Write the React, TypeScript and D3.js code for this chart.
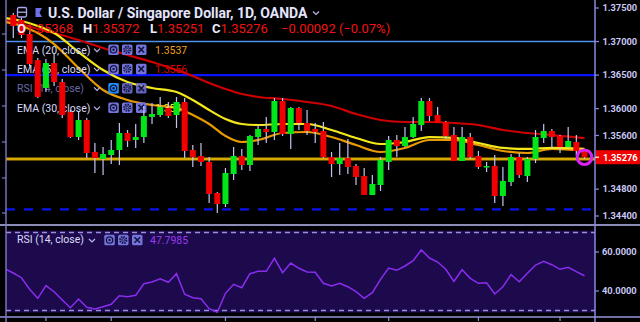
import React from 'react';
import * as d3 from 'd3';

const W = 640;
const H = 322;

// ---- OHLC data (daily, USD/SGD) ----
const opens = [1.37396,1.37321,1.37112,1.36725,1.36308,1.36680,1.36397,1.35950,1.35577,1.35831,1.35354,1.35250,1.35309,1.35384,1.35637,1.35533,1.35577,1.35876,1.35905,1.36010,1.35905,1.36099,1.35384,1.35294,1.35205,1.34743,1.34579,1.35026,1.35294,1.35160,1.35577,1.35697,1.35652,1.36114,1.35622,1.36010,1.35786,1.35697,1.35667,1.35279,1.35175,1.35264,1.35145,1.34996,1.34713,1.34862,1.35205,1.35533,1.35443,1.35577,1.35756,1.36114,1.35905,1.35801,1.35607,1.35220,1.35577,1.35294,1.35130,1.35145,1.34698,1.34907,1.35279,1.34996,1.35250,1.35563,1.35667,1.35592,1.35428,1.35503,1.35368];
const highs = [1.37425,1.37351,1.37172,1.36755,1.36740,1.36814,1.36442,1.35980,1.35950,1.35861,1.35488,1.35428,1.35533,1.35786,1.35682,1.35771,1.36040,1.36084,1.36174,1.36099,1.36174,1.36159,1.35458,1.35488,1.35279,1.34758,1.35115,1.35428,1.35399,1.35607,1.35756,1.35876,1.36159,1.36159,1.36025,1.36025,1.35980,1.35786,1.35801,1.35354,1.35488,1.35548,1.35175,1.35115,1.35011,1.35279,1.35592,1.35607,1.35727,1.35876,1.36159,1.36159,1.36025,1.35816,1.35727,1.35727,1.35637,1.35369,1.35205,1.35309,1.35130,1.35324,1.35339,1.35279,1.35682,1.35771,1.35697,1.35607,1.35727,1.35607,1.35372];
const lows = [1.37053,1.37053,1.36636,1.36159,1.36248,1.36338,1.35861,1.35563,1.35533,1.35264,1.35041,1.35011,1.35175,1.35160,1.35428,1.35414,1.35488,1.35771,1.35876,1.35861,1.35712,1.35264,1.35130,1.35145,1.34594,1.34445,1.34534,1.34937,1.35086,1.35071,1.35458,1.35488,1.35533,1.35592,1.35399,1.35682,1.35607,1.35488,1.35264,1.34981,1.35011,1.35026,1.34862,1.34713,1.34713,1.34773,1.35086,1.35279,1.35428,1.35563,1.35667,1.35816,1.35786,1.35548,1.35220,1.35220,1.35250,1.35100,1.35056,1.34594,1.34549,1.34847,1.34966,1.34907,1.35190,1.35488,1.35414,1.35339,1.35414,1.35294,1.35251];
const closes = [1.37232,1.37098,1.36665,1.36174,1.36680,1.36397,1.35905,1.35577,1.35831,1.35339,1.35264,1.35324,1.35384,1.35637,1.35518,1.35577,1.35890,1.35920,1.36025,1.35890,1.36099,1.35369,1.35279,1.35205,1.34728,1.34579,1.35041,1.35294,1.35160,1.35592,1.35697,1.35652,1.36114,1.35622,1.36010,1.35786,1.35667,1.35652,1.35279,1.35175,1.35264,1.35130,1.34981,1.34713,1.34877,1.35235,1.35533,1.35443,1.35577,1.35771,1.36114,1.35890,1.35786,1.35592,1.35220,1.35577,1.35279,1.35130,1.35145,1.34698,1.34922,1.35279,1.35011,1.35250,1.35577,1.35667,1.35577,1.35428,1.35518,1.35369,1.35276];

// ---- EMA readings (bar index -> value) ----
const emaIdx = [-1,1,3,5,8,11,14,17,20,22,24,26,28,30,33,36,39,42,45,48,51,54,57,60,63,66,70];
const ema55 = [1.37321,1.37262,1.37187,1.37127,1.37023,1.36904,1.36800,1.36695,1.36576,1.36487,1.36382,1.36293,1.36218,1.36174,1.36144,1.36099,1.36040,1.35920,1.35831,1.35801,1.35801,1.35786,1.35756,1.35682,1.35637,1.35607,1.3556];
const ema30 = [1.37351,1.37306,1.37232,1.37127,1.36844,1.36576,1.36397,1.36308,1.36248,1.36129,1.35980,1.35846,1.35771,1.35756,1.35771,1.35771,1.35682,1.35563,1.35473,1.35503,1.35577,1.35563,1.35488,1.35414,1.35399,1.35414,1.3540];
const ema20 = [1.37291,1.37232,1.37127,1.36963,1.36605,1.36278,1.36129,1.36054,1.36010,1.35905,1.35771,1.35592,1.35503,1.35533,1.35637,1.35652,1.35577,1.35458,1.35354,1.35414,1.35533,1.35533,1.35458,1.35369,1.35339,1.35399,1.3537];

// ---- RSI(14) readings, starting at bar index -1 ----
const rsiStart = -1;
const rsiValues = [51.28,49.23,46.82,40.87,36.26,42.72,39.64,35.38,31.44,35.90,31.64,30.77,31.95,33.18,37.59,37.08,37.79,43.74,44.62,46.31,44.46,48.87,38.31,36.56,36.05,30.92,29.08,38.82,43.44,41.69,48.87,50.10,50.10,56.77,49.38,54.36,51.64,49.74,49.59,43.95,42.56,43.95,42.21,39.64,36.26,39.13,46.00,51.79,50.62,52.82,55.54,61.03,56.92,54.87,51.13,44.97,50.92,46.51,43.95,44.26,38.46,42.21,48.36,44.77,49.08,53.33,55.23,53.49,51.13,52.15,49.90,47.7985];

// ---- horizontal levels and axis ticks ----
const levelLightBlue = 1.37;
const levelBlue = 1.365;
const levelGold = 1.3525;
const levelDashed = 1.345;
const priceTicks = [1.375, 1.37, 1.365, 1.36, 1.356, 1.348, 1.344];
const rsiTicks = [60, 40];
const rsiBands = [70, 30];
const leftTicks = [1.37113, 1.36576, 1.3604, 1.35503, 1.34967, 1.34445];
const timeTickIdx = [4, 12, 26, 37, 46, 57, 67];

const title = 'U.S. Dollar / Singapore Dollar, 1D, OANDA';
const changeText = '\u22120.00092 (\u22120.07%)';
const legendRows = [
  { label: 'EMA (20, close)', value: '1.3537', color: '#f0a020', dim: false },
  { label: 'EMA (55, close)', value: '1.3556', color: '#e00000', dim: false },
  { label: 'RSI (14, close)', value: '', color: '', dim: true },
  { label: 'EMA (30, close)', value: '1.3540', color: '#ffe81a', dim: false },
];

const FONT = 'Roboto, "Noto Sans", sans-serif';

const x = d3.scaleLinear().domain([0, 70]).range([13.3, 584.5]);
const y = d3.scaleLinear().domain([1.344, 1.375]).range([216, 8]);
const yR = d3.scaleLinear().domain([30, 70]).range([310.5, 232.5]);

const PL = 6, PR = 595;

function emaPath(vals: number[]) {
  const pts = emaIdx.map((i, k) => [x(i), y(vals[k])] as [number, number]);
  return d3.line().curve(d3.curveMonotoneX)(pts) || '';
}

function Chevron({ cx, cy }: { cx: number; cy: number }) {
  return <path d={`M${cx - 3},${cy - 1.5} L${cx},${cy + 1.5} L${cx + 3},${cy - 1.5}`} fill="none" stroke="#b8b8ee" strokeWidth={1.2} />;
}

function IconBoxes({ cy, active }: { cy: number; active: boolean }) {
  const xs = [108.3, 122, 136];
  const s = 10.5;
  const ic = '#15153a';
  return (
    <g>
      {xs.map((bx, k) => (
        <rect key={k} x={bx} y={cy - s / 2} width={s} height={s} rx={1.5} fill={k === 0 && active ? '#1e8fff' : '#7474de'} opacity={active && k > 0 ? 0.85 : 1} />
      ))}
      <circle cx={xs[0] + s / 2} cy={cy} r={3.2} fill="none" stroke={ic} strokeWidth={1.3} />
      <circle cx={xs[0] + s / 2} cy={cy} r={1.2} fill={ic} />
      <circle cx={xs[1] + s / 2} cy={cy} r={3.1} fill="none" stroke={ic} strokeWidth={2} strokeDasharray="1.5 0.9" />
      <circle cx={xs[1] + s / 2} cy={cy} r={1.3} fill="#7474de" stroke={ic} strokeWidth={0.8} />
      <path d={`M${xs[2] + 2.5},${cy - 2.8} L${xs[2] + 8},${cy + 2.8} M${xs[2] + 8},${cy - 2.8} L${xs[2] + 2.5},${cy + 2.8}`} stroke={ic} strokeWidth={1.6} />
    </g>
  );
}

export default function App() {
  const idx = d3.range(closes.length);
  const bw = 6;
  const rsiPts = rsiValues.map((v, k) => [x(k + rsiStart), yR(v)] as [number, number]);
  const rsiPath = d3.line()(rsiPts) || '';
  const last = closes.length - 1;
  const lastY = y(closes[last]);
  const ohlcLetters = [
    { l: 'O', v: opens[last], x: 17 },
    { l: 'H', v: highs[last], x: 83 },
    { l: 'L', v: lows[last], x: 150 },
    { l: 'C', v: closes[last], x: 212 },
  ];
  const rowY = [49.7, 68.9, 88.3, 107.7];

  return (
    <div style={{ position: 'absolute', left: 0, top: 0, width: W, height: H, background: '#000' }}>
      <svg width={W} height={H} style={{ display: 'block', fontFamily: FONT }}>
        <defs>
          <clipPath id="mainClip"><rect x={PL} y={0} width={PR - PL} height={224} /></clipPath>
          <clipPath id="rsiClip"><rect x={PL} y={226} width={PR - PL} height={90} /></clipPath>
        </defs>
        <rect x={0} y={0} width={W} height={H} fill="#000" />

        {/* ===== main pane ===== */}
        <g clipPath="url(#mainClip)">
          <line x1={PL} x2={PR} y1={y(levelLightBlue)} y2={y(levelLightBlue)} stroke="#4f8fef" strokeWidth={1.6} />
          <line x1={PL} x2={PR} y1={y(levelBlue)} y2={y(levelBlue)} stroke="#0a14ff" strokeWidth={2.4} />
          <line x1={PL} x2={PR} y1={y(levelDashed)} y2={y(levelDashed)} stroke="#0a14f0" strokeWidth={2.2} strokeDasharray="9 9" />
          <line x1={PL} x2={PR} y1={y(levelGold)} y2={y(levelGold)} stroke="#c99a00" strokeWidth={3} />
          <line x1={PL} x2={PR} y1={y(levelGold)} y2={y(levelGold)} stroke="#e8b800" strokeWidth={1} />

          <path d={emaPath(ema55)} fill="none" stroke="#cc0000" strokeWidth={2.2} />
          <path d={emaPath(ema20)} fill="none" stroke="#e89a00" strokeWidth={2.2} />
          <path d={emaPath(ema30)} fill="none" stroke="#f5e81a" strokeWidth={2.2} />
        </g>

        {/* legend */}
        {legendRows.map((r, k) => (
          <g key={k}>
            <text x={17} y={rowY[k] + 3.8} fontSize={10.5} fill={r.dim ? '#6a6aa8' : '#dcdcfa'}>{r.label}</text>
            <Chevron cx={97} cy={rowY[k] + 0.5} />
            <IconBoxes cy={rowY[k]} active={r.dim} />
            {r.value && <text x={155} y={rowY[k] + 3.8} fontSize={10.5} fill={r.color}>{r.value}</text>}
          </g>
        ))}

        <g clipPath="url(#mainClip)">
          {idx.map(i => {
            const up = closes[i] >= opens[i];
            const col = up ? '#00e61a' : '#f00000';
            const top = y(Math.max(opens[i], closes[i]));
            const bot = y(Math.min(opens[i], closes[i]));
            return (
              <g key={i}>
                <line x1={x(i)} x2={x(i)} y1={y(highs[i])} y2={y(lows[i])} stroke="#c4c4f4" strokeWidth={1.2} />
                <rect x={x(i) - bw / 2} y={top} width={bw} height={Math.max(1.5, bot - top)} fill={col} />
              </g>
            );
          })}
          <circle cx={x(last)} cy={lastY} r={7.3} fill="none" stroke="#dd22f5" strokeWidth={3} />
        </g>

        {/* ===== RSI pane ===== */}
        <g clipPath="url(#rsiClip)">
          <rect x={PL} y={yR(70) - 2} width={PR - PL} height={yR(30) - yR(70) + 4} fill="#1d0a4c" />
          {rsiBands.map(b => (
            <line key={b} x1={PL} x2={PR} y1={yR(b)} y2={yR(b)} stroke="#9b8fe0" strokeWidth={1.4} strokeDasharray="5 4" />
          ))}
          <path d={rsiPath} fill="none" stroke="#8a2cf0" strokeWidth={1.5} />
        </g>
        <text x={17} y={243} fontSize={10.5} fill="#dcdcfa">RSI (14, close)</text>
        <Chevron cx={92} cy={240.5} />
        <g transform="translate(-4,0)"><IconBoxes cy={240} active={false} /></g>
        <text x={150} y={243.8} fontSize={10.5} fill="#9a3cf5">{rsiValues[rsiValues.length - 1].toFixed(4)}</text>

        {/* ===== frame / axes ===== */}
        <line x1={0} x2={W} y1={225} y2={225} stroke="#8c8cb8" strokeWidth={1.8} />
        <line x1={0} x2={W} y1={317} y2={317} stroke="#9494d8" strokeWidth={1.5} />
        <line x1={PL} x2={PL} y1={0} y2={H} stroke="#7c7cc8" strokeWidth={1.4} />
        <line x1={PR} x2={PR} y1={0} y2={H} stroke="#8a8ae0" strokeWidth={1.5} />
        {leftTicks.map(t => (
          <line key={t} x1={2} x2={PL} y1={y(t)} y2={y(t)} stroke="#7c7cc8" strokeWidth={1.2} />
        ))}
        {timeTickIdx.map(t => (
          <line key={t} x1={x(t)} x2={x(t)} y1={317} y2={321} stroke="#9494d8" strokeWidth={1.2} />
        ))}
        {priceTicks.map(t => (
          <g key={t}>
            <line x1={PR} x2={PR + 4} y1={y(t)} y2={y(t)} stroke="#8a8ae0" strokeWidth={1.2} />
            <text x={602.5} y={y(t) + 3.3} fontSize={9.3} fontWeight="bold" fill="#c8c8f4">{t.toFixed(5)}</text>
          </g>
        ))}
        {rsiTicks.map(t => (
          <g key={t}>
            <line x1={PR} x2={PR + 4} y1={yR(t)} y2={yR(t)} stroke="#8a8ae0" strokeWidth={1.2} />
            <text x={602} y={yR(t) + 3.3} fontSize={9.3} fontWeight="bold" fill="#c8c8f4">{t.toFixed(4)}</text>
          </g>
        ))}
        <rect x={596} y={lastY - 7} width={44} height={14} fill="#f00000" />
        <line x1={PR} x2={PR + 4} y1={lastY} y2={lastY} stroke="#ffffff" strokeWidth={1.2} />
        <text x={603} y={lastY + 3.3} fontSize={9.3} fontWeight="bold" fill="#ffffff">{closes[last].toFixed(5)}</text>

        {/* ===== header ===== */}
        <rect x={17.5} y={7.5} width={9} height={9.5} rx={1.5} fill="none" stroke="#a8a8ee" strokeWidth={1.3} />
        <line x1={18} x2={26} y1={12.2} y2={12.2} stroke="#a8a8ee" strokeWidth={1.3} />
        <path d="M35.5,8 L42,8 L39.5,12.5 L42,17 L35.5,17 Z" fill="#7070e8" />
        <text x={48} y={17.5} fontSize={14} fontWeight="bold" fill="#e4e4ff">{title}</text>
        <Chevron cx={316} cy={13} />
        <text y={33} fontSize={13}>
          {ohlcLetters.map(o => (
            <React.Fragment key={o.l}>
              <tspan x={o.x} fontWeight="bold" fill="#ececff">{o.l}</tspan>
              <tspan fill="#f01414">{o.v.toFixed(5)}</tspan>
            </React.Fragment>
          ))}
          <tspan x={281} fill="#f01414">{changeText}</tspan>
        </text>
      </svg>
    </div>
  );
}
